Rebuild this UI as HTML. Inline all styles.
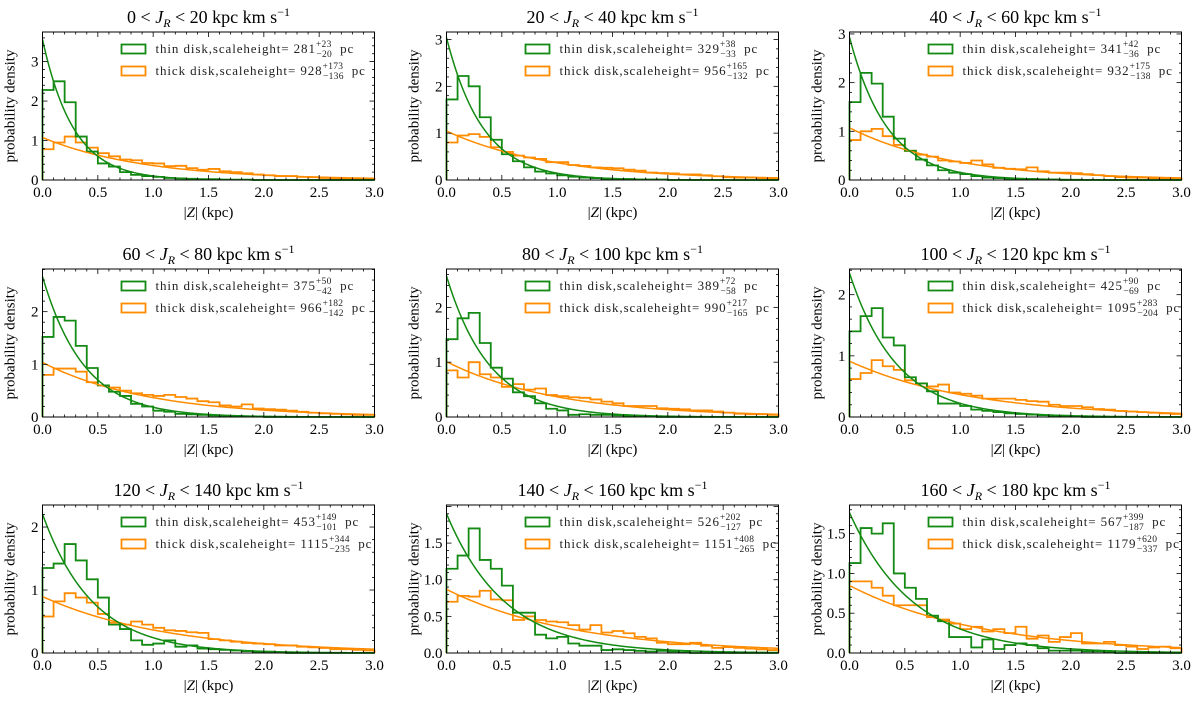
<!DOCTYPE html>
<html><head><meta charset="utf-8"><style>
html,body{margin:0;padding:0;background:#fff;}
svg{display:block;font-family:"Liberation Serif",serif;}
</style></head><body>
<svg id="fig" width="1200" height="705" viewBox="0 0 1200 705" xmlns="http://www.w3.org/2000/svg"></svg>
<script>
const jrRanges = [[0,20],[20,40],[40,60],[60,80],[80,100],[100,120],[120,140],[140,160],[160,180]];
const thinH = [281,329,341,375,389,425,453,526,567];
const thinErr = [[23,20],[38,33],[42,36],[50,42],[72,58],[90,69],[149,101],[202,127],[399,187]];
const thickH = [928,956,932,966,990,1095,1115,1151,1179];
const thickErr = [[173,136],[165,132],[175,138],[182,142],[217,165],[283,204],[344,235],[408,265],[620,337]];
const yMax = [3.75,3.16,3.04,2.81,2.70,2.42,2.35,2.02,1.86];
const yTicks = [[0,1,2,3],[0,1,2,3],[0,1,2,3],[0,1,2],[0,1,2],[0,1,2],[0,1,2],[0,0.5,1,1.5],[0,0.5,1,1.5]];
const xTicks = [0,0.5,1,1.5,2,2.5,3];
const binEdges = [0,0.1,0.2,0.3,0.4,0.5,0.6,0.7,0.8,0.9,1.0,1.1,1.2,1.3,1.4,1.5,1.6,1.7,1.8,1.9,2.0,2.1,2.2,2.3,2.4,2.5,2.6,2.7,2.8,2.9,3.0];
const thinHist = [
[2.28,2.5,1.97,1.1,0.72,0.42,0.34,0.2,0.13,0.1,0.08,0.05,0.04,0.03,0.02,0.02,0.01,0.01,0.01,0,0,0,0,0,0,0,0,0,0,0],
[1.72,2.22,2.0,1.34,0.86,0.55,0.4,0.27,0.18,0.14,0.1,0.07,0.05,0.04,0.03,0.02,0.02,0.01,0.01,0.01,0,0,0,0,0,0,0,0,0,0],
[1.6,2.2,1.98,1.3,0.85,0.6,0.42,0.3,0.2,0.15,0.12,0.08,0.05,0.04,0.03,0.02,0.02,0.01,0.01,0,0,0,0,0,0,0,0,0,0,0],
[1.52,1.9,1.83,1.35,0.93,0.6,0.48,0.4,0.25,0.2,0.12,0.1,0.06,0.05,0.04,0.03,0.02,0.02,0.01,0.01,0,0,0,0,0,0,0,0,0,0],
[1.42,1.8,1.9,1.35,0.9,0.7,0.45,0.38,0.25,0.15,0.12,0.04,0.05,0.04,0.04,0.03,0.02,0.01,0.01,0,0,0,0,0,0,0,0,0,0,0],
[1.4,1.65,1.78,1.3,1.17,0.65,0.55,0.42,0.22,0.22,0.18,0.12,0.1,0.08,0.06,0.05,0.04,0.03,0.02,0.02,0.01,0,0,0,0,0,0,0,0,0],
[1.35,1.42,1.73,1.47,1.17,0.88,0.45,0.38,0.2,0.13,0.15,0.2,0.1,0.12,0.07,0.06,0.05,0.04,0.03,0.02,0.02,0.01,0,0,0,0,0,0,0,0],
[1.15,1.33,1.7,1.27,1.15,0.92,0.55,0.55,0.25,0.2,0.22,0.13,0.1,0.1,0.04,0.05,0.04,0.03,0.02,0.03,0.02,0.01,0,0,0,0,0,0,0,0],
[1.13,1.57,1.5,1.63,1.0,0.82,0.68,0.47,0.4,0.2,0.2,0.07,0.17,0.05,0.1,0.12,0.1,0.06,0.03,0.03,0.03,0.02,0.02,0.01,0,0,0,0,0,0]
];
const thickHist = [
[0.78,0.95,1.1,0.95,0.82,0.68,0.6,0.52,0.5,0.43,0.42,0.35,0.36,0.3,0.26,0.28,0.22,0.2,0.17,0.14,0.12,0.1,0.1,0.08,0.07,0.05,0.04,0.03,0.03,0.02],
[0.8,0.95,0.98,0.92,0.7,0.6,0.52,0.48,0.45,0.38,0.38,0.32,0.3,0.27,0.26,0.25,0.22,0.2,0.16,0.15,0.14,0.12,0.12,0.1,0.08,0.06,0.05,0.05,0.04,0.03],
[0.82,1.0,1.05,0.9,0.72,0.6,0.52,0.48,0.4,0.38,0.35,0.4,0.32,0.25,0.23,0.22,0.26,0.18,0.15,0.15,0.14,0.12,0.1,0.08,0.06,0.05,0.05,0.04,0.03,0.03],
[0.8,0.92,0.92,0.86,0.66,0.6,0.56,0.5,0.45,0.42,0.4,0.42,0.38,0.35,0.3,0.28,0.22,0.2,0.24,0.16,0.15,0.14,0.12,0.1,0.08,0.07,0.06,0.05,0.04,0.04],
[0.85,0.72,1.0,0.78,0.72,0.55,0.6,0.5,0.52,0.4,0.38,0.36,0.35,0.32,0.28,0.25,0.2,0.2,0.2,0.16,0.15,0.14,0.12,0.12,0.1,0.08,0.06,0.05,0.05,0.04],
[0.62,0.72,0.93,0.83,0.77,0.6,0.55,0.5,0.53,0.4,0.38,0.35,0.3,0.3,0.3,0.28,0.26,0.25,0.2,0.18,0.18,0.16,0.13,0.12,0.1,0.09,0.08,0.07,0.06,0.05],
[0.58,0.82,0.95,0.88,0.8,0.62,0.48,0.45,0.5,0.45,0.4,0.36,0.35,0.33,0.32,0.22,0.2,0.18,0.16,0.15,0.14,0.12,0.12,0.1,0.09,0.08,0.06,0.06,0.05,0.04],
[0.7,0.78,0.77,0.85,0.73,0.72,0.45,0.5,0.45,0.43,0.42,0.38,0.32,0.38,0.28,0.3,0.27,0.22,0.2,0.14,0.12,0.12,0.14,0.1,0.07,0.08,0.07,0.06,0.05,0.04],
[0.9,0.9,0.82,0.72,0.6,0.6,0.6,0.45,0.42,0.37,0.3,0.33,0.27,0.3,0.25,0.33,0.18,0.22,0.14,0.2,0.25,0.12,0.12,0.14,0.1,0.08,0.05,0.07,0.08,0.06]
];

const NS = "http://www.w3.org/2000/svg";
const svg = document.getElementById('fig');
const GREEN = "#138a13", ORANGE = "#ff8c00";
const colX = [42.5, 446.5, 849.5], rowY = [32, 269, 505];
const PW = 332, PH = 148;
function mk(tag, attrs, parent){ const e=document.createElementNS(NS,tag); for(const k in attrs) e.setAttribute(k,attrs[k]); (parent||svg).appendChild(e); return e; }

for (let p=0;p<9;p++){
  const x0 = colX[p%3], y0 = rowY[Math.floor(p/3)];
  const g = mk('g',{});
  
  
  const sx = v => x0 + v/3*PW;
  const sy = v => y0 + PH - v/yMax[p]*PH;
  [[thickHist[p],ORANGE,'thick-disk-histogram'],[thinHist[p],GREEN,'thin-disk-histogram']].forEach(([h,c,nm])=>{
    let d = 'M'+sx(0)+','+sy(0);
    for(let i=0;i<h.length;i++){ d+=' L'+sx(binEdges[i])+','+sy(h[i])+' L'+sx(binEdges[i+1])+','+sy(h[i]); }
    d+=' L'+sx(3)+','+sy(0);
    const e = mk('path',{d:d,fill:'none',stroke:c,'stroke-width':1.8,'stroke-linejoin':'miter'},g);
    
    
  });
  [[thickH[p],ORANGE,'thick-disk-fit-curve'],[thinH[p],GREEN,'thin-disk-fit-curve']].forEach(([h,c,nm])=>{
    const hk=h/1000; let d='';
    for(let i=0;i<=150;i++){ const z=i*0.02; let v=Math.exp(-z/hk)/hk; v=Math.min(v,yMax[p]); d+=(i?' L':'M')+sx(z).toFixed(2)+','+sy(v).toFixed(2); }
    const e = mk('path',{d:d,fill:'none',stroke:c,'stroke-width':1.5},g);
    
    
  });
  const fr = mk('rect',{x:x0,y:y0,width:PW,height:PH,fill:'none',stroke:'#000','stroke-width':1},g);
  
  
  for(let i=0;i<=30;i++){ const v=i/10, X=sx(v), major=(i%5===0), L=major?5:2.5;
    mk('line',{x1:X,y1:y0+PH,x2:X,y2:y0+PH-L,stroke:'#000','stroke-width':0.8},g);
    mk('line',{x1:X,y1:y0,x2:X,y2:y0+L,stroke:'#000','stroke-width':0.8},g);
  }
  xTicks.forEach(v=>{ const t=mk('text',{x:sx(v),y:y0+PH+17,'text-anchor':'middle','font-size':15},g); t.textContent=v.toFixed(1);
      });
  const yt = yTicks[p], step = yt[1]-yt[0], minor = step/5;
  for(let v=0; v<=yMax[p]+1e-9; v+=minor){ const Y=sy(v); const maj=Math.abs(v/step-Math.round(v/step))<1e-6; const L=maj?5:2.5;
    mk('line',{x1:x0,y1:Y,x2:x0+L,y2:Y,stroke:'#000','stroke-width':0.8},g);
    mk('line',{x1:x0+PW,y1:Y,x2:x0+PW-L,y2:Y,stroke:'#000','stroke-width':0.8},g);
  }
  yt.forEach(v=>{ const t=mk('text',{x:x0-4,y:sy(v)+5,'text-anchor':'end','font-size':15},g); t.textContent=(step<1?v.toFixed(1):String(v));
      });
  const xl = mk('text',{x:x0+PW/2,y:y0+PH+37,'text-anchor':'middle','font-size':15},g);
  xl.innerHTML='|<tspan font-style="italic">Z</tspan>| (kpc)';
   
  const yl = mk('text',{x:0,y:0,'text-anchor':'middle','font-size':15,transform:'translate('+(x0-28)+','+(y0+PH/2)+') rotate(-90)'},g);
  yl.textContent='probability density';
   
  const tt = mk('text',{x:x0+PW/2,y:y0-9,'text-anchor':'middle','font-size':18},g);
  tt.innerHTML = jrRanges[p][0]+' &lt; <tspan font-style="italic">J</tspan><tspan font-size="12" dy="4" font-style="italic">R</tspan><tspan dy="-4"> &lt; '+jrRanges[p][1]+' kpc km s</tspan><tspan font-size="12" dy="-7">−1</tspan>';
   
  [[GREEN,'thin disk,scaleheight= ',thinH[p],thinErr[p],17,'legend-entry-thin'],[ORANGE,'thick disk,scaleheight= ',thickH[p],thickErr[p],39,'legend-entry-thick']].forEach(([c,lab,h,e,dy,nm])=>{
    const lg = mk('g',{},g);
     
    mk('rect',{x:x0+79,y:y0+dy-4.5,width:24,height:9,fill:'none',stroke:c,'stroke-width':1.8},lg);
    const t = mk('text',{x:x0+113,y:y0+dy+4,'font-size':13,'letter-spacing':0.9,fill:'#222'},lg);
    const up = String(e[0]).length+1;
    t.innerHTML = lab+h+'<tspan font-size="9.5" letter-spacing="0.3" dy="-6">+'+e[0]+'</tspan><tspan font-size="9.5" letter-spacing="0.3" dx="-'+(up*5.1)+'" dy="10">−'+e[1]+'</tspan><tspan dx="8" dy="-4">pc</tspan>';
  });
}
</script>
</body></html>
